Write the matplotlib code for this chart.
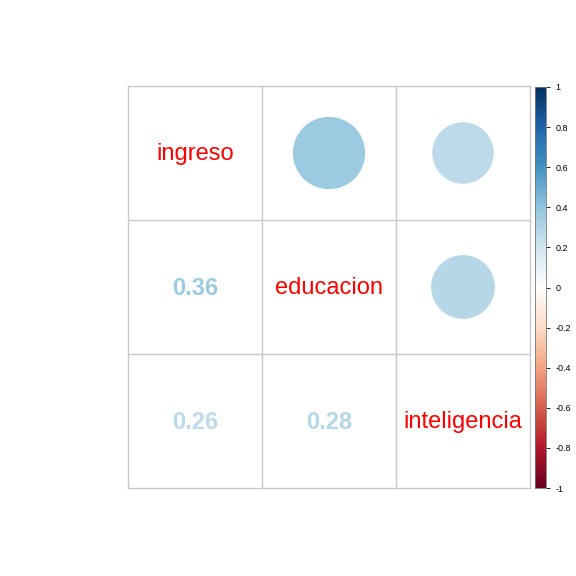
import numpy as np
import matplotlib
matplotlib.use('Agg')
import matplotlib.pyplot as plt
from matplotlib.colors import LinearSegmentedColormap
from matplotlib.patches import Circle

plt.rcParams['font.family'] = ['Liberation Sans', 'DejaVu Sans']

variables = ['ingreso', 'educacion', 'inteligencia']
corr = np.array([[1.00, 0.36, 0.26],
                 [0.36, 1.00, 0.28],
                 [0.26, 0.28, 1.00]])
cbar_ticks = [-1, -0.8, -0.6, -0.4, -0.2, 0, 0.2, 0.4, 0.6, 0.8, 1]

# paleta RdBu como en corrplot
rdbu = ["#67001F", "#B2182B", "#D6604D", "#F4A582", "#FDDBC7", "#FFFFFF",
        "#D1E5F0", "#92C5DE", "#4393C3", "#2166AC", "#053061"]
cmap = LinearSegmentedColormap.from_list('rdbu', rdbu, N=200)

fig = plt.figure(figsize=(5.76, 5.76), dpi=100)
ax = fig.add_axes([128 / 576, 88 / 576, 402 / 576, 402 / 576])
n = len(variables)
ax.set_xlim(0, n)
ax.set_ylim(0, n)
ax.set_axis_off()

grid_col = '#C8C8C8'
for k in range(n + 1):
    ax.plot([k, k], [0, n], color=grid_col, lw=1, zorder=1, clip_on=False)
    ax.plot([0, n], [k, k], color=grid_col, lw=1, zorder=1, clip_on=False)

for i in range(n):
    for j in range(n):
        cx = j + 0.5
        cy = n - i - 0.5
        r = corr[i, j]
        col = cmap((r + 1) / 2)
        if i == j:
            ax.text(cx, cy - 0.01, variables[i], color='red', fontsize=17,
                    ha='center', va='center')
        elif j > i:
            rad = np.sqrt(abs(r)) * 0.9 / 2
            ax.add_patch(Circle((cx, cy), rad, facecolor=col, edgecolor='none', zorder=2))
        else:
            ax.text(cx, cy - 0.01, f'{r:.2f}', color=col, fontsize=17, fontweight='bold',
                    ha='center', va='center')

# barra de color
cax = fig.add_axes([535 / 576, 88 / 576, 11 / 576, 401 / 576])
grad = np.linspace(-1, 1, 200).reshape(-1, 1)
cax.imshow(grad, cmap=cmap, aspect='auto', origin='lower', extent=[0, 1, -1, 1])
cax.set_xticks([])
cax.yaxis.tick_right()
cax.set_yticks(cbar_ticks)
cax.set_yticklabels([f'{t:g}' for t in cbar_ticks])
cax.tick_params(axis='y', labelsize=6.5, length=3, width=0.6, pad=4)
for s in cax.spines.values():
    s.set_color('#777777')
    s.set_linewidth(0.6)

fig.savefig('out.png', dpi=100)
